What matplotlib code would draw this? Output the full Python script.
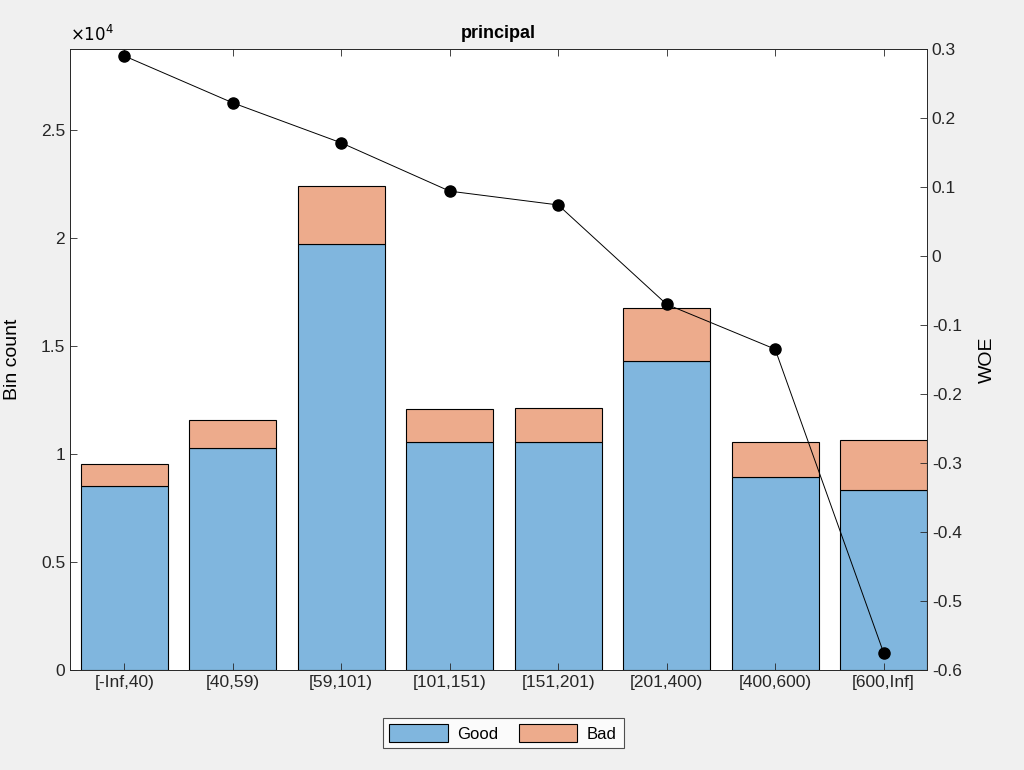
import numpy as np
import matplotlib
matplotlib.use("Agg")
import matplotlib.pyplot as plt
from matplotlib.ticker import FuncFormatter

plt.rcParams['font.family'] = ['Liberation Sans', 'DejaVu Sans']

#data
bins = ['[-Inf,40)', '[40,59)', '[59,101)', '[101,151)', '[151,201)',
        '[201,400)', '[400,600)', '[600,Inf]']
good = [8520, 10280, 19720, 10560, 10560, 14310, 8940, 8330]
bad = [1020, 1290, 2690, 1520, 1570, 2450, 1620, 2320]
woe = [0.290, 0.222, 0.164, 0.094, 0.074, -0.070, -0.135, -0.575]

x = np.arange(1, len(bins) + 1)

def fmt(v, p):
    s = f'{round(v, 6):g}'
    return '0' if s in ('-0', '0') else s

fig = plt.figure(figsize=(10.24, 7.7), dpi=100)
fig.patch.set_facecolor('#f0f0f0')
ax = fig.add_axes([70/1024, 100/770, 857/1024, 621/770])

b1 = ax.bar(x, good, width=0.8, color='#80b6de', edgecolor='black', linewidth=0.8, label='Good')
b2 = ax.bar(x, bad, width=0.8, bottom=good, color='#edab8c', edgecolor='black', linewidth=0.8, label='Bad')
ax.set_xlim(0.5, 8.4)
ax.set_ylim(0, 28750)
ax.set_yticks(np.arange(0, 25001, 5000))
ax.yaxis.set_major_formatter(FuncFormatter(lambda v, p: fmt(v / 1e4, p)))
ax.set_xticks(x)
ax.set_xticklabels(bins)
ax.set_ylabel('Bin count', fontsize=14, labelpad=14)
ax.set_title('principal', fontsize=13, fontweight='bold', pad=8)
ax.text(0, 1.008, r'$\times10^4$', transform=ax.transAxes, fontsize=12, ha='left', va='bottom')
ax.tick_params(direction='in', top=True, labelsize=12.5, length=5, width=0.6, colors='#262626', labelcolor='#262626')

ax2 = ax.twinx()
ax2.plot(x, woe, color='black', linewidth=0.7, marker='o', markersize=8)
ax2.set_ylim(-0.6, 0.3)
ax2.set_yticks(np.round(np.arange(-0.6, 0.31, 0.1), 1))
ax2.yaxis.set_major_formatter(FuncFormatter(fmt))
ax2.set_ylabel('WOE', fontsize=14, labelpad=12)
ax2.tick_params(direction='in', labelsize=12.5, length=5, width=0.6, colors='#262626', labelcolor='#262626')

for a in (ax, ax2):
    for s in a.spines.values():
        s.set_linewidth(0.6)
        s.set_color('#262626')

leg = fig.legend(handles=[b1, b2], loc='center', bbox_to_anchor=(503/1024, 1 - 733/770),
                 ncol=2, fontsize=12, frameon=True, fancybox=False, edgecolor='#262626',
                 handlelength=3.5, handleheight=1.2, columnspacing=1.2, borderpad=0.4,
                 handletextpad=0.6)
leg.get_frame().set_linewidth(0.8)

fig.savefig('out.png', dpi=100, facecolor=fig.get_facecolor())
